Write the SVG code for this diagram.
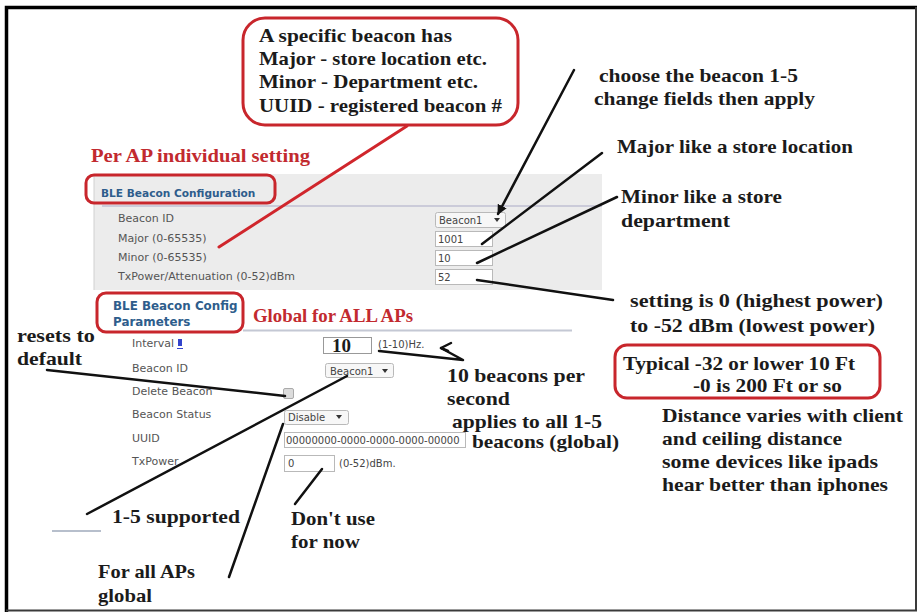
<svg xmlns="http://www.w3.org/2000/svg" width="922" height="614" viewBox="0 0 922 614">
  <defs>
    <style>
      .ann { font-family: "Liberation Serif", "Times New Roman", serif; font-weight: bold; font-size: 19px; fill: #1b1b1b; }
      .redtxt { font-family: "Liberation Serif", "Times New Roman", serif; font-weight: bold; font-size: 19px; fill: #c22a2f; }
      .ui { font-family: "DejaVu Sans", Verdana, sans-serif; font-size: 11px; fill: #555; }
      .val { font-family: "DejaVu Sans", Verdana, sans-serif; font-size: 10px; fill: #444; }
      .hdr { font-family: "DejaVu Sans", Verdana, sans-serif; font-weight: bold; fill: #2e5d8c; }
      .field { fill: #fff; stroke: #b9b9b9; stroke-width: 1; }
      .sel { fill: #f7f7f7; stroke: #b9b9b9; stroke-width: 1; }
      .caret { fill: #333; }
      .callout { fill: none; stroke: #c8262c; stroke-width: 3; }
      .lead { fill: none; stroke: #111; stroke-width: 2.5; stroke-linecap: round; stroke-linejoin: round; }
      .redlead { fill: none; stroke: #d0262c; stroke-width: 3; stroke-linecap: round; }
    </style>
    <marker id="tip" viewBox="0 0 10 10" refX="9" refY="5" markerWidth="4" markerHeight="4" orient="auto">
      <path d="M0,0 L10,5 L0,10 z" fill="#111"/>
    </marker>
    <clipPath id="uuidClip"><rect x="285" y="432" width="180" height="16"/></clipPath>
  </defs>

  <!-- page frame -->
  <rect x="0" y="0" width="922" height="614" fill="#fff"/>
  <path d="M6.5,612 V7.5 H917" fill="none" stroke="#000" stroke-width="3.5"/>
  <path d="M916,7 V610.5 H6" fill="none" stroke="#3a3a3a" stroke-width="2"/>

  <!-- per-AP configuration panel -->
  <g id="panel-ap">
    <rect x="94" y="174" width="508" height="116" fill="#ececec"/>
    <line x1="94" y1="174" x2="94" y2="290" stroke="#d0d0d0" stroke-width="1"/>
    <line x1="102" y1="206" x2="602" y2="206" stroke="#a9a9c6" stroke-width="1.2"/>
    <text class="hdr" x="101" y="197" font-size="10.6">BLE Beacon Configuration</text>
    <text class="ui" x="118" y="222">Beacon ID</text>
    <text class="ui" x="118" y="242">Major (0-65535)</text>
    <text class="ui" x="118" y="261">Minor (0-65535)</text>
    <text class="ui" x="118" y="280">TxPower/Attenuation (0-52)dBm</text>
    <rect class="sel" x="435.5" y="212.5" width="70" height="15" rx="2"/>
    <text class="val" x="439" y="224">Beacon1</text>
    <path class="caret" d="M494,218 h6 l-3,4 z"/>
    <rect class="field" x="435.5" y="231.5" width="57" height="15"/>
    <text class="val" x="438" y="243">1001</text>
    <rect class="field" x="435.5" y="250.5" width="57" height="15"/>
    <text class="val" x="438" y="262">10</text>
    <rect class="field" x="435.5" y="269.5" width="57" height="15"/>
    <text class="val" x="438" y="281">52</text>
  </g>

  <!-- global parameters panel -->
  <g id="panel-global">
    <line x1="243" y1="330.5" x2="572" y2="330.5" stroke="#c4c8d4" stroke-width="2"/>
    <text class="hdr" x="113" y="310" font-size="11.9">BLE Beacon Config</text>
    <text class="hdr" x="113" y="326" font-size="11.9">Parameters</text>
    <text class="ui" x="132" y="347">Interval</text>
    <rect x="178" y="339" width="4" height="7" fill="#3344cc"/>
    <line x1="177" y1="348.5" x2="183" y2="348.5" stroke="#3344cc" stroke-width="1"/>
    <text class="ui" x="132" y="372">Beacon ID</text>
    <text class="ui" x="132" y="395">Delete Beacon</text>
    <text class="ui" x="132" y="418">Beacon Status</text>
    <text class="ui" x="132" y="442">UUID</text>
    <text class="ui" x="132" y="465">TxPower</text>

    <rect x="323.5" y="337.5" width="48" height="16" fill="#fff" stroke="#999" stroke-width="1"/>
    <text class="ann" x="332" y="352" font-size="19">10</text>
    <text class="val" x="378" y="348">(1-10)Hz.</text>

    <rect class="sel" x="325.5" y="363.5" width="68" height="14" rx="2"/>
    <text class="val" x="330" y="375">Beacon1</text>
    <path class="caret" d="M382,369 h6 l-3,4 z"/>

    <rect x="283.5" y="388.5" width="10" height="10" rx="1.5" fill="#dcdcdc" stroke="#aaa" stroke-width="1"/>

    <rect class="sel" x="284.5" y="410.5" width="64" height="14" rx="2"/>
    <text class="val" x="288" y="421">Disable</text>
    <path class="caret" d="M336,415 h6 l-3,4 z"/>

    <rect class="field" x="284.5" y="432.5" width="181" height="15"/>
    <text class="val" x="286" y="444" font-size="10.5" clip-path="url(#uuidClip)">00000000-0000-0000-0000-00000</text>

    <rect class="field" x="284.5" y="455.5" width="50" height="16"/>
    <text class="val" x="288" y="467">0</text>
    <text class="val" x="339" y="467">(0-52)dBm.</text>
  </g>

  <!-- red outlined callouts -->
  <g id="callout-beacon">
    <rect class="callout" x="243" y="18" width="275" height="107" rx="22"/>
    <text class="ann" x="259" y="42" textLength="193" lengthAdjust="spacingAndGlyphs">A specific beacon has</text>
    <text class="ann" x="259" y="65" textLength="228" lengthAdjust="spacingAndGlyphs">Major - store location etc.</text>
    <text class="ann" x="259" y="88" textLength="219" lengthAdjust="spacingAndGlyphs">Minor - Department etc.</text>
    <text class="ann" x="259" y="112" textLength="243" lengthAdjust="spacingAndGlyphs">UUID - registered beacon #</text>
  </g>
  <g id="label-per-ap">
    <text class="redtxt" x="91" y="162" textLength="219" lengthAdjust="spacingAndGlyphs">Per AP individual setting</text>
    <rect class="callout" x="86" y="175" width="189" height="28" rx="8"/>
  </g>
  <g id="label-global">
    <rect class="callout" x="97" y="293" width="146" height="39" rx="9"/>
    <text class="redtxt" x="253" y="322" textLength="160" lengthAdjust="spacingAndGlyphs">Global for ALL APs</text>
  </g>
  <g id="callout-typical">
    <rect class="callout" x="615" y="345" width="265" height="53" rx="12"/>
    <text class="ann" x="623" y="370" textLength="232" lengthAdjust="spacingAndGlyphs">Typical -32 or lower 10 Ft</text>
    <text class="ann" x="693" y="392" textLength="149" lengthAdjust="spacingAndGlyphs">-0 is 200 Ft or so</text>
  </g>

  <!-- plain annotations -->
  <g id="note-choose">
    <text class="ann" x="599" y="82" textLength="199" lengthAdjust="spacingAndGlyphs">choose the beacon 1-5</text>
    <text class="ann" x="594" y="105" textLength="221" lengthAdjust="spacingAndGlyphs">change fields then apply</text>
  </g>
  <g id="note-major">
    <text class="ann" x="617" y="153" textLength="236" lengthAdjust="spacingAndGlyphs">Major like a store location</text>
  </g>
  <g id="note-minor">
    <text class="ann" x="621" y="203" textLength="161" lengthAdjust="spacingAndGlyphs">Minor like a store</text>
    <text class="ann" x="621" y="227" textLength="109" lengthAdjust="spacingAndGlyphs">department</text>
  </g>
  <g id="note-power">
    <text class="ann" x="630" y="307" textLength="253" lengthAdjust="spacingAndGlyphs">setting is 0 (highest power)</text>
    <text class="ann" x="630" y="332" textLength="245" lengthAdjust="spacingAndGlyphs">to -52 dBm (lowest power)</text>
  </g>
  <g id="note-distance">
    <text class="ann" x="662" y="422" textLength="241" lengthAdjust="spacingAndGlyphs">Distance varies with client</text>
    <text class="ann" x="662" y="445" textLength="180" lengthAdjust="spacingAndGlyphs">and ceiling distance</text>
    <text class="ann" x="662" y="468" textLength="216" lengthAdjust="spacingAndGlyphs">some devices like ipads</text>
    <text class="ann" x="662" y="491" textLength="226" lengthAdjust="spacingAndGlyphs">hear better than iphones</text>
  </g>
  <g id="note-interval">
    <text class="ann" x="447" y="382" textLength="138" lengthAdjust="spacingAndGlyphs">10 beacons per</text>
    <text class="ann" x="447" y="405" textLength="63" lengthAdjust="spacingAndGlyphs">second</text>
    <text class="ann" x="452" y="428" textLength="150" lengthAdjust="spacingAndGlyphs">applies to all 1-5</text>
    <text class="ann" x="472" y="448" textLength="147" lengthAdjust="spacingAndGlyphs">beacons (global)</text>
  </g>
  <g id="note-reset">
    <text class="ann" x="17" y="342" textLength="78" lengthAdjust="spacingAndGlyphs">resets to</text>
    <text class="ann" x="17" y="365" textLength="65" lengthAdjust="spacingAndGlyphs">default</text>
  </g>
  <g id="note-supported">
    <line x1="52" y1="531" x2="101" y2="531" stroke="#b7bfcc" stroke-width="2"/>
    <text class="ann" x="112" y="523" textLength="128" lengthAdjust="spacingAndGlyphs">1-5 supported</text>
  </g>
  <g id="note-dont-use">
    <text class="ann" x="291" y="525" textLength="84" lengthAdjust="spacingAndGlyphs">Don't use</text>
    <text class="ann" x="291" y="548" textLength="69" lengthAdjust="spacingAndGlyphs">for now</text>
  </g>
  <g id="note-all-aps">
    <text class="ann" x="98" y="578" textLength="97" lengthAdjust="spacingAndGlyphs">For all APs</text>
    <text class="ann" x="98" y="602" textLength="54" lengthAdjust="spacingAndGlyphs">global</text>
  </g>

  <!-- leader lines -->
  <g id="connectors">
    <line class="redlead" x1="407" y1="126" x2="219" y2="247"/>
    <line class="lead" x1="574" y1="70" x2="498" y2="214" marker-end="url(#tip)"/>
    <line class="lead" x1="602" y1="153" x2="482" y2="244"/>
    <line class="lead" x1="617" y1="197" x2="477" y2="263"/>
    <line class="lead" x1="477" y1="280" x2="613" y2="300"/>
    <path class="lead" d="M379,351 L463,360 L441,348"/>
    <path class="lead" d="M451,343 L441,348 L448,351"/>
    <line class="lead" x1="47" y1="370" x2="285" y2="396"/>
    <line class="lead" x1="87" y1="514" x2="347" y2="376"/>
    <line class="lead" x1="229" y1="577" x2="283" y2="424"/>
    <line class="lead" x1="295" y1="504" x2="322" y2="469"/>
  </g>
</svg>
